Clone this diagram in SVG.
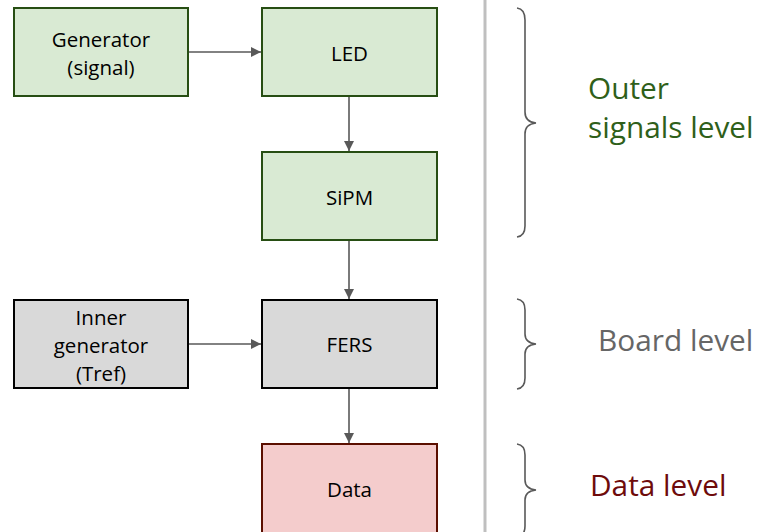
<svg xmlns="http://www.w3.org/2000/svg" width="761" height="532" viewBox="0 0 761 532">
  <style>
    .box { stroke-width: 2; }
    .green { fill: #d9ead3; stroke: #274e13; }
    .grey { fill: #d9d9d9; stroke: #000000; }
    .red { fill: #f4cccc; stroke: #5b0f00; }
    .lbl { font-family: "Open Sans", "Liberation Sans", sans-serif; font-size: 20.5px; fill: #000000; text-anchor: middle; }
    .lvl { font-family: "Open Sans", "Liberation Sans", sans-serif; font-size: 29.8px; }
    .conn { stroke: #595959; stroke-width: 1.6; fill: none; }
    .brace { stroke: #595959; stroke-width: 1.6; fill: none; }
  </style>
  <defs>
    <marker id="arrow" viewBox="0 0 10 10" refX="10" refY="5" markerWidth="6.5" markerHeight="6.5" orient="auto" markerUnits="strokeWidth">
      <path d="M0,0 L10,5 L0,10 z" fill="#595959"/>
    </marker>
  </defs>

  <rect width="761" height="532" fill="#ffffff"/>

  <!-- separator -->
  <line x1="485" y1="0" x2="485" y2="532" stroke="#bfbfbf" stroke-width="3"/>

  <g id="connectors">
    <line class="conn" x1="189" y1="52" x2="261" y2="52" marker-end="url(#arrow)"/>
    <line class="conn" x1="349" y1="96" x2="349" y2="151" marker-end="url(#arrow)"/>
    <line class="conn" x1="349" y1="240" x2="349" y2="299" marker-end="url(#arrow)"/>
    <line class="conn" x1="188" y1="344" x2="261" y2="344" marker-end="url(#arrow)"/>
    <line class="conn" x1="349" y1="388" x2="349" y2="443" marker-end="url(#arrow)"/>
  </g>

  <g id="generator">
    <rect class="box green" x="14" y="8" width="174" height="88"/>
    <text class="lbl" x="101" y="47">Generator</text>
    <text class="lbl" x="101" y="75">(signal)</text>
  </g>
  <g id="led">
    <rect class="box green" x="262" y="8" width="175" height="88"/>
    <text class="lbl" x="349.5" y="61">LED</text>
  </g>
  <g id="sipm">
    <rect class="box green" x="262" y="152" width="175" height="88"/>
    <text class="lbl" x="349.5" y="205">SiPM</text>
  </g>
  <g id="inner-generator">
    <rect class="box grey" x="14" y="300" width="174" height="88"/>
    <text class="lbl" x="101" y="325">Inner</text>
    <text class="lbl" x="101" y="353">generator</text>
    <text class="lbl" x="101" y="381">(Tref)</text>
  </g>
  <g id="fers">
    <rect class="box grey" x="262" y="300" width="175" height="88"/>
    <text class="lbl" x="349.5" y="352">FERS</text>
  </g>
  <g id="data">
    <rect class="box red" x="262" y="444" width="175" height="96"/>
    <text class="lbl" x="349.5" y="497">Data</text>
  </g>

  <!-- level braces -->
  <g id="brace-outer">
    <path class="brace" d="M517,8 Q525,9 525,20 L525,112 Q525,122 536,123 Q525,124 525,134 L525,226 Q525,236 517,237"/>
  </g>
  <g id="brace-board">
    <path class="brace" d="M517,299 Q525,300 525,310 L525,334 Q525,343 536,344 Q525,345 525,354 L525,378 Q525,388 517,389"/>
  </g>
  <g id="brace-data">
    <path class="brace" d="M517,444 Q525,445 525,455 L525,480 Q525,489 536,490 Q525,491 525,500 L525,526 Q525,536 517,537"/>
  </g>

  <g id="level-labels">
    <text class="lvl" x="588" y="99" fill="#2f5f1a">Outer</text>
    <text class="lvl" x="588" y="138" fill="#2f5f1a">signals level</text>
    <text class="lvl" x="598" y="351" fill="#666666">Board level</text>
    <text class="lvl" x="590" y="496" fill="#6e0b0b">Data level</text>
  </g>
</svg>
